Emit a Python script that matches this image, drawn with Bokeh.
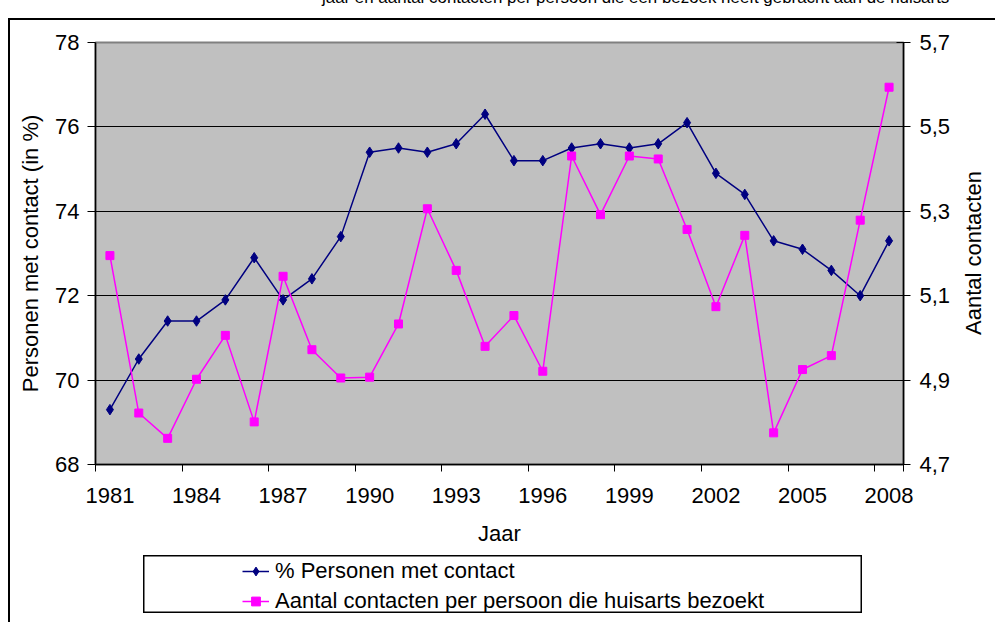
import math
from bokeh.plotting import figure
from bokeh.layouts import column, row
from bokeh.models import (Range1d, LinearAxis, FixedTicker, CustomJSTickFormatter,
                          Legend, LegendItem, Div, Spacer)
from bokeh.embed import file_html
from bokeh.resources import INLINE

# ---- data ----
years = [1981, 1982, 1983, 1984, 1985, 1986, 1987, 1988, 1989, 1990,
         1991, 1992, 1993, 1994, 1995, 1996, 1997, 1998, 1999, 2000,
         2001, 2002, 2003, 2004, 2005, 2006, 2007, 2008]
pct_contact = [69.3, 70.5, 71.4, 71.4, 71.9, 72.9, 71.9, 72.4, 73.4, 75.4,
               75.5, 75.4, 75.6, 76.3, 75.2, 75.2, 75.5, 75.6, 75.5, 75.6,
               76.1, 74.9, 74.4, 73.3, 73.1, 72.6, 72.0, 73.3]
contacts = [5.195, 4.822, 4.762, 4.902, 5.006, 4.801, 5.146, 4.972, 4.905, 4.907,
            5.033, 5.306, 5.160, 4.980, 5.053, 4.921, 5.431, 5.292, 5.431, 5.424,
            5.257, 5.074, 5.243, 4.775, 4.925, 4.958, 5.279, 5.594]
left_ticks = [68, 70, 72, 74, 76, 78]
right_ticks = [4.7, 4.9, 5.1, 5.3, 5.5, 5.7]
label_every = 3

title_text = "jaar en aantal contacten per persoon die een bezoek heeft gebracht aan de huisarts"
x_title = "Jaar"
left_title = "Personen met contact (in %)"
right_title = "Aantal contacten"
legend_labels = ["% Personen met contact", "Aantal contacten per persoon die huisarts bezoekt"]

FONT = "Liberation Sans"
FS = "22px"
BLUE = "#000080"
PINK = "#FF00FF"

n = len(years)
xc = [i + 0.5 for i in range(n)]  # category centres

p = figure(width=950, height=535, x_range=Range1d(0, n), y_range=Range1d(68, 78),
           output_backend="svg", toolbar_location=None,
           min_border_left=85, min_border_right=57, min_border_top=22, min_border_bottom=91,
           background_fill_color="#C0C0C0", border_fill_color="white",
           outline_line_color="#808080", outline_line_width=2)
p.extra_y_ranges = {"right": Range1d(4.7, 5.7)}

# x axis
xa = p.xaxis[0]
xa.ticker = FixedTicker(ticks=[xc[i] for i in range(0, n, label_every)],
                        minor_ticks=list(range(0, n, label_every)) + [n])
xa.formatter = CustomJSTickFormatter(args=dict(years=years),
                                     code="return String(years[Math.floor(tick)]);")
xa.major_tick_out = 0
xa.major_tick_in = 0
xa.minor_tick_out = 7
xa.minor_tick_in = 0
xa.minor_tick_line_color = "black"
xa.major_label_standoff = 16
xa.axis_label = x_title
xa.axis_label_standoff = 15

# left axis
ya = p.yaxis[0]
ya.ticker = FixedTicker(ticks=left_ticks)
ya.major_tick_out = 8
ya.major_tick_in = 0
ya.minor_tick_out = 0
ya.minor_tick_in = 0
ya.major_label_standoff = 8
ya.axis_label = left_title
ya.axis_label_standoff = 9

# right axis
ra = LinearAxis(y_range_name="right", ticker=FixedTicker(ticks=right_ticks),
                formatter=CustomJSTickFormatter(code="return tick.toFixed(1).replace('.', ',');"))
ra.major_tick_out = 7
ra.major_tick_in = 7
ra.minor_tick_out = 0
ra.minor_tick_in = 0
ra.major_label_standoff = 9
p.add_layout(ra, "right")

for ax in [xa, ya, ra]:
    ax.axis_line_color = "black"
    ax.axis_line_width = 1.5
    ax.major_tick_line_color = "black"
    ax.major_label_text_font = FONT
    ax.major_label_text_font_size = FS
    ax.major_label_text_color = "black"
    ax.axis_label_text_font = FONT
    ax.axis_label_text_font_size = FS
    ax.axis_label_text_font_style = "normal"
    ax.axis_label_text_color = "black"

p.xgrid.visible = False
p.ygrid.ticker = FixedTicker(ticks=left_ticks[1:-1])
p.ygrid.grid_line_color = "black"
p.ygrid.grid_line_width = 1

# series
p.line(xc, pct_contact, line_color=BLUE, line_width=1.5)
p.scatter(xc, pct_contact, marker="diamond", size=10.5,
          fill_color=BLUE, line_color=BLUE)
p.line(xc, contacts, line_color=PINK, line_width=1.5, y_range_name="right")
p.scatter(xc, contacts, marker="square", size=8, fill_color=PINK,
          line_color=PINK, y_range_name="right")

# right axis title, reading bottom-to-top like the reference
right_html = ('<div style="position:relative;width:35px;height:535px;">'
              '<div style="position:absolute;left:13px;top:233px;'
              'transform:translate(-50%,-50%) rotate(-90deg);white-space:nowrap;'
              "font-family:'Liberation Sans';font-size:22px;line-height:25px;color:black;\">"
              + right_title + '</div></div>')
right_div = Div(text=right_html, width=35, height=535, margin=0)

# ---- legend (own small boxed figure) ----
lf = figure(width=719, height=58, x_range=Range1d(0, 1), y_range=Range1d(0, 1),
            output_backend="svg", toolbar_location=None,
            x_axis_location=None, y_axis_location=None, min_border=0,
            background_fill_color="white", border_fill_color="white",
            outline_line_color="black", outline_line_width=2)
lf.xgrid.visible = False
lf.ygrid.visible = False
off = [-5, -4]
l1 = lf.line(off, off, line_color=BLUE, line_width=1.5)
m1 = lf.scatter(off, off, marker="diamond", size=10.5, fill_color=BLUE, line_color=BLUE)
l2 = lf.line(off, off, line_color=PINK, line_width=1.5)
m2 = lf.scatter(off, off, marker="square", size=8, fill_color=PINK, line_color=PINK)
legend = Legend(items=[LegendItem(label=legend_labels[0], renderers=[l1, m1]),
                       LegendItem(label=legend_labels[1], renderers=[l2, m2])],
                location=(99, -1), orientation="vertical",
                label_text_font=FONT, label_text_font_size=FS, label_text_color="black",
                glyph_width=27, glyph_height=22, label_height=22, spacing=4, padding=0,
                label_standoff=6, border_line_color=None, background_fill_alpha=0, margin=0)
lf.add_layout(legend, "center")

# ---- cut-off title strip at the very top ----
title_html = ('<div style="position:relative;width:995px;height:18px;overflow:hidden;">'
              '<span style="position:absolute;left:322px;top:-11px;white-space:nowrap;'
              "font-family:'Liberation Sans';font-size:16.9px;line-height:17px;color:black;\">"
              + title_text + '</span></div>')
title_div = Div(text=title_html, width=995, height=18, margin=0,
                styles={"overflow": "hidden"})

# chart-area border lines (left / top)
top_line = row(Spacer(width=8, height=2),
               Spacer(width=987, height=2, styles={"background-color": "black"}))
body = column(row(p, right_div), row(Spacer(width=133, height=58), lf))
main = row(Spacer(width=8, height=602),
           Spacer(width=2, height=602, styles={"background-color": "black"}),
           body)
layout = column(title_div, top_line, main)

open("out.html", "w").write(file_html(layout, INLINE))
